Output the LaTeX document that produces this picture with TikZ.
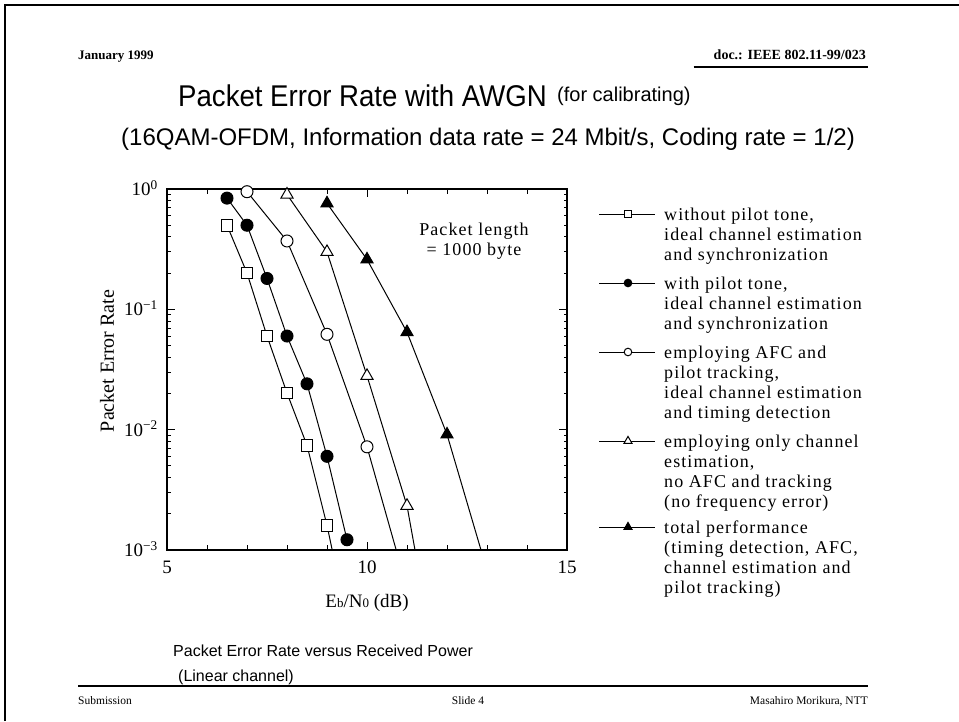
\documentclass[tikz,border=0pt]{standalone}
\usepackage{fontspec}
\setmainfont{Liberation Serif}
\newfontfamily\helv{Liberation Sans}
\newfontfamily\helvnarrow[FakeStretch=0.92]{Liberation Sans}
\usetikzlibrary{plotmarks}

\begin{document}
\begin{tikzpicture}[x=1pt,y=-1pt,
    curve/.style={line width=1pt},
    tickline/.style={line width=0.9pt},
    rule/.style={line width=1.4pt},
    hdr/.style={font=\bfseries\fontsize{13}{15}\selectfont, inner sep=0pt},
    ftr/.style={font=\fontsize{11.5}{13}\selectfont, inner sep=0pt},
    lbl/.style={font=\fontsize{19}{22}\selectfont, inner sep=0pt},
    legtxt/.style={font=\fontsize{18}{20}\selectfont\addfontfeatures{LetterSpace=6}, align=left, anchor=north west, inner sep=0pt},
    capt/.style={font=\helv\fontsize{16}{19}\selectfont, anchor=base west, inner sep=0pt}]
\useasboundingbox (0,0) rectangle (959,721);

% slide border
\draw[line width=2pt] (5,721) -- (5,5) -- (959,5);

% header and footer
\node[hdr, anchor=base west] (date) at (78,59) {January 1999};
\node[hdr, anchor=base east, font=\bfseries\fontsize{14}{16}\selectfont] (docid) at (866,59) {doc.: IEEE 802.11-99/023};
\draw[rule] ([shift={(-20,8)}]docid.base west) -- ([shift={(2,8)}]docid.base east);
\node[ftr, anchor=base west] (subm) at (78,704) {Submission};
\node[ftr, anchor=base] (slide) at (468,704) {Slide 4};
\node[ftr, anchor=base east] (auth) at (868,704) {Masahiro Morikura, NTT};
\draw[rule] ([shift={(0,-18)}]subm.base west) -- ([shift={(0,-18)}]auth.base east);

% titles
\node[font=\helvnarrow\fontsize{30}{34}\selectfont, anchor=base west, inner sep=0pt] (title) at (178,106) {Packet Error Rate with AWGN};
\node[font=\helv\fontsize{20}{24}\selectfont, anchor=base west, inner sep=0pt] (calib) at ([shift={(10,-5)}]title.base east) {(for calibrating)};
\node[font=\helv\fontsize{24}{28}\selectfont, anchor=base, inner sep=0pt] (conds) at (488,145) {(16QAM-OFDM, Information data rate = 24 Mbit/s, Coding rate = 1/2)};

% PER curves
\begin{scope}[shift={(-33,550)}, x=40pt, y=120.33pt]
  \draw[line width=1.6pt] (5,0) rectangle (15,3);
  \foreach \d in {6,7,8,9,11,12,13,14} {
    \draw[tickline] (\d,0) -- ++(0pt,5pt);
    \draw[tickline] (\d,3) -- ++(0pt,-5pt);
  }
  \draw[tickline] (10,0) -- ++(0pt,8pt);
  \draw[tickline] (10,3) -- ++(0pt,-8pt);
  \foreach \n in {0,1,2} {
    \foreach \k in {2,...,9} {
      \draw[tickline] (5,{\n+log10(\k)}) -- ++(4pt,0pt);
      \draw[tickline] (15,{\n+log10(\k)}) -- ++(-3pt,0pt);
    }
  }
  \foreach \n in {1,2} {
    \draw[tickline] (5,\n) -- ++(8pt,0pt);
    \draw[tickline] (15,\n) -- ++(-8pt,0pt);
  }
  \foreach \d in {5,10,15}
    \node[lbl, anchor=base, yshift=-23pt] (xt\d) at (\d,0) {\d};
  \foreach \n/\e in {0/0,1/−1,2/−2,3/−3}
    \node[lbl, anchor=base east, xshift=-9pt, yshift=-6.5pt] (yt\n) at (5,3-\n) {10\textsuperscript{\e}};

  \draw[curve] plot[mark=square*, mark indices={1,2,3,4,5,6}, mark options={fill=white}, mark size=5.8pt]
    coordinates {(6.5,{3+log10(0.5)}) (7,{3+log10(0.2)}) (7.5,{3+log10(0.06)}) (8,{3+log10(0.02)})
                 (8.5,{3+log10(0.0074)}) (9,{3+log10(0.0016)}) (9.13,0)};
  \draw[curve] plot[mark=*, mark options={fill=black}, mark size=6pt]
    coordinates {(6.5,{3+log10(0.84)}) (7,{3+log10(0.5)}) (7.5,{3+log10(0.18)}) (8,{3+log10(0.06)})
                 (8.5,{3+log10(0.024)}) (9,{3+log10(0.006)}) (9.5,{3+log10(0.0012)})};
  \draw[curve] plot[mark=*, mark indices={1,2,3,4}, mark options={fill=white}, mark size=6pt]
    coordinates {(7,{3+log10(0.95)}) (8,{3+log10(0.37)}) (9,{3+log10(0.062)}) (10,{3+log10(0.0072)}) (10.73,0)};
  \draw[curve] plot[mark=triangle*, mark indices={1,2,3,4}, mark options={fill=white}, mark size=7pt]
    coordinates {(8,{3+log10(0.9)}) (9,{3+log10(0.3)}) (10,{3+log10(0.028)}) (11,{3+log10(0.0023)}) (11.2,0)};
  \draw[curve] plot[mark=triangle*, mark indices={1,2,3,4}, mark options={fill=black}, mark size=7pt]
    coordinates {(9,{3+log10(0.76)}) (10,{3+log10(0.26)}) (11,{3+log10(0.063)}) (12,{3+log10(0.009)}) (12.85,0)};
\end{scope}

% axis titles
\node[lbl, rotate=90, font=\fontsize{20}{22}\selectfont] (ylab) at (107,361) {Packet Error Rate};
\node[lbl, anchor=base] (xlab) at (367,607) {E{\fontsize{13}{13}\selectfont b}/N{\fontsize{13}{13}\selectfont 0} (dB)};
\node[font=\fontsize{18}{20}\selectfont\addfontfeatures{LetterSpace=6}, align=center, anchor=north, inner sep=0pt] (pktlen) at (474,222.7) {Packet length\\= 1000 byte};

% legend
\foreach \yy/\mk/\fl/\ms in {214/square*/white/3.5, 283/*/black/3.8, 352/*/white/3.8, 441/triangle*/white/4.6, 527/triangle*/black/4.6} {
  \draw[curve] (599,\yy) -- (655,\yy);
  \draw[curve] plot[mark=\mk, mark size=\ms pt, mark options={fill=\fl}] coordinates {(628,\yy)};
}
\node[legtxt] (leg1) at (664,207.7) {without pilot tone,\\ideal channel estimation\\and synchronization};
\node[legtxt] (leg2) at (664,276.7) {with pilot tone,\\ideal channel estimation\\and synchronization};
\node[legtxt] (leg3) at (664,345.7) {employing AFC and\\pilot tracking,\\ideal channel estimation\\and timing detection};
\node[legtxt] (leg4) at (664,434.7) {employing only channel\\estimation,\\no AFC and tracking\\(no frequency error)};
\node[legtxt] (leg5) at (664,520.7) {total performance\\(timing detection, AFC,\\channel estimation and\\pilot tracking)};

% caption
\node[capt] (capt1) at (173,656) {Packet Error Rate versus Received Power};
\node[capt] (capt2) at (178,681) {(Linear channel)};
\end{tikzpicture}
\end{document}
